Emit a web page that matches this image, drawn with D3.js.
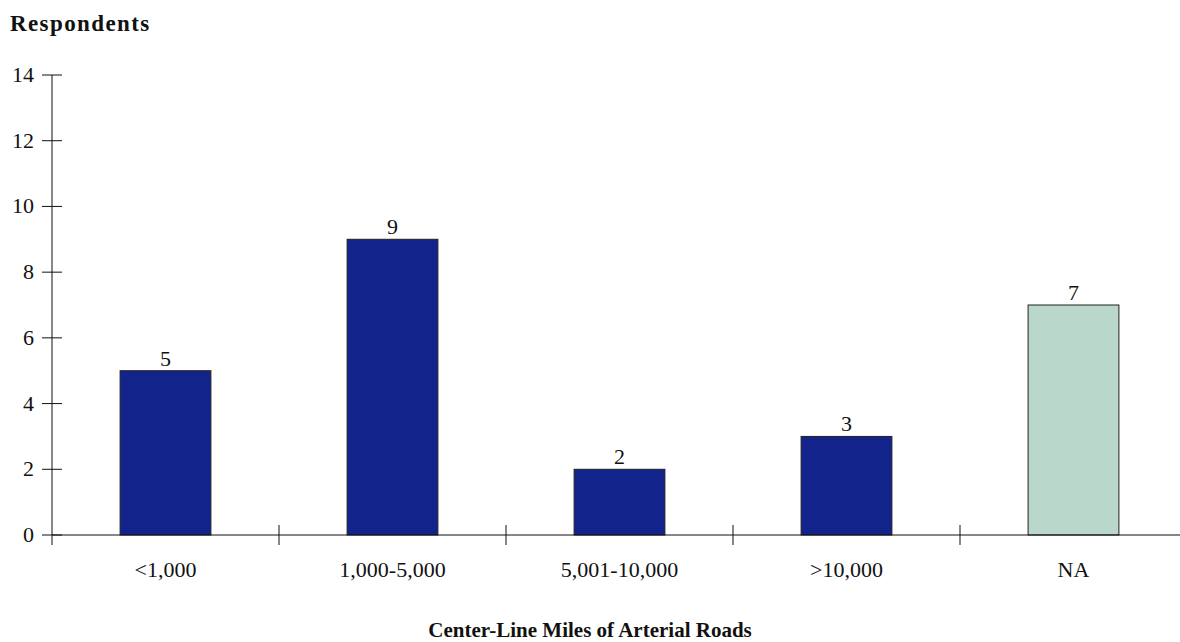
<!DOCTYPE html>
<html lang="en">
<head>
<meta charset="UTF-8">
<title>Center-Line Miles of Arterial Roads</title>
<style>
    body {
        margin: 0;
        background: white;
    }
    svg text {
        font-family: "Palatino Linotype", Palatino, "Liberation Serif", serif;
        fill: #111;
    }
</style>
</head>
<body>
<div id="chart"></div>

<script src="https://d3js.org/d3.v7.min.js"></script>
<script>
    const categories = ["<1,000", "1,000-5,000", "5,001-10,000", ">10,000", "NA"];
    const respondents = [5, 9, 2, 3, 7];
    const barColors = ["#12238c", "#12238c", "#12238c", "#12238c", "#bad7cc"];
    const yTicks = [0, 2, 4, 6, 8, 10, 12, 14];

    const width = 1180, height = 642;
    const svg = d3.select("#chart")
        .append("svg")
        .attr("width", width)
        .attr("height", height);

    const x = d3.scaleBand()
        .domain(categories)
        .range([52, 1187])
        .paddingInner(0.6)
        .paddingOuter(0.3);

    const y = d3.scaleLinear().domain([0, 14]).range([535, 75]);

    // y axis: ticks cross the line
    const yAxis = svg.append("g");
    yAxis.append("line")
        .attr("x1", 52).attr("x2", 52)
        .attr("y1", y(14)).attr("y2", y(0) + 10)
        .attr("stroke", "#111");
    yAxis.selectAll(".ytick")
        .data(yTicks)
        .enter().append("line")
        .attr("x1", 42).attr("x2", 62)
        .attr("y1", d => y(d)).attr("y2", d => y(d))
        .attr("stroke", "#111");
    yAxis.selectAll(".ylabel")
        .data(yTicks)
        .enter().append("text")
        .attr("x", 34)
        .attr("y", d => y(d) + 7)
        .attr("text-anchor", "end")
        .attr("font-size", "22px")
        .text(d => d);

    // bars
    svg.selectAll(".bar")
        .data(categories)
        .enter().append("rect")
        .attr("x", d => x(d))
        .attr("width", x.bandwidth())
        .attr("y", (d, i) => y(respondents[i]))
        .attr("height", (d, i) => y(0) - y(respondents[i]))
        .attr("fill", (d, i) => barColors[i])
        .attr("stroke", "#222")
        .attr("stroke-width", 1);

    svg.selectAll(".value")
        .data(categories)
        .enter().append("text")
        .attr("x", d => x(d) + x.bandwidth() / 2)
        .attr("y", (d, i) => y(respondents[i]) - 5)
        .attr("text-anchor", "middle")
        .attr("font-size", "22px")
        .text((d, i) => respondents[i]);

    // x axis
    const xAxis = svg.append("g");
    xAxis.append("line")
        .attr("x1", 52).attr("x2", width)
        .attr("y1", y(0)).attr("y2", y(0))
        .attr("stroke", "#111");
    const step = x.step();
    xAxis.selectAll(".xtick")
        .data(categories.slice(1))
        .enter().append("line")
        .attr("x1", (d, i) => 52 + (i + 1) * step)
        .attr("x2", (d, i) => 52 + (i + 1) * step)
        .attr("y1", y(0) - 10).attr("y2", y(0) + 10)
        .attr("stroke", "#111");
    xAxis.selectAll(".xlabel")
        .data(categories)
        .enter().append("text")
        .attr("x", d => x(d) + x.bandwidth() / 2)
        .attr("y", 577)
        .attr("text-anchor", "middle")
        .attr("font-size", "22px")
        .text(d => d);

    // titles
    svg.append("text")
        .attr("x", 10).attr("y", 31)
        .attr("font-size", "23px")
        .attr("font-weight", "bold")
        .attr("letter-spacing", "1.4px")
        .text("Respondents");

    svg.append("text")
        .attr("x", 590).attr("y", 637)
        .attr("text-anchor", "middle")
        .attr("font-size", "21px")
        .attr("font-weight", "bold")
        .text("Center-Line Miles of Arterial Roads");
</script>
</body>
</html>
